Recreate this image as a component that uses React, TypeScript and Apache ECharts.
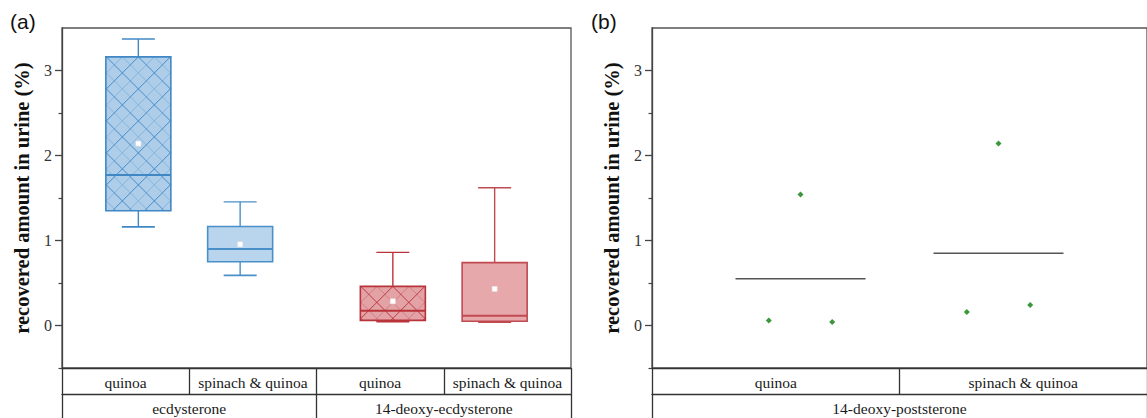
import React, { useEffect, useRef } from "react";
import * as echarts from "echarts";

// ---- Data (panel a) ----
const catsA = ["quinoa", "spinach & quinoa", "quinoa", "spinach & quinoa"];
const groupsA = ["ecdysterone", "14-deoxy-ecdysterone"];
const posA = [0.6, 1.4, 2.6, 3.4];
const whiskerLowA = [1.16, 0.59, 0.045, 0.04];
const q1A = [1.35, 0.75, 0.06, 0.05];
const medianA = [1.77, 0.9, 0.175, 0.115];
const q3A = [3.16, 1.165, 0.46, 0.74];
const whiskerHighA = [3.37, 1.455, 0.86, 1.62];
const meanA = [2.14, 0.955, 0.285, 0.43];
const hatchedA = [1, 0, 1, 0];

// ---- Data (panel b) ----
const catsB = ["quinoa", "spinach & quinoa"];
const groupsB = ["14-deoxy-poststerone"];
const posB = [0.6, 1.4];
const quinoaPts = [0.06, 1.54, 0.04];
const spinachPts = [0.16, 2.14, 0.24];
const meanB = [0.55, 0.85];

const yMajor = [0, 1, 2, 3];
const yMinor = [-0.5, 0.5, 1.5, 2.5];

// styles (not data)
const boxStyles = [
  { fill: "#aecde9", stroke: "#3f88c5", hatch: "#3f88c5" },
  { fill: "#b9d5ed", stroke: "#4a90c8", hatch: "#4a90c8" },
  { fill: "#e3a3a6", stroke: "#b8343a", hatch: "#b8343a" },
  { fill: "#e6a8ab", stroke: "#c04a50", hatch: "#c04a50" },
];
const jitter = [-0.128, 0, 0.128];

const SERIF = "Liberation Serif";
const SANS = "Liberation Sans";

function hatchLines(x0: number, y0: number, x1: number, y1: number, cx: number, cy: number, color: string) {
  const out: any[] = [];
  const step = 32;
  const fams = [
    { off: 0, op: 0.95 },
    { off: step / 2, op: 0.35 },
  ];
  for (const f of fams) {
    for (let n = -20; n <= 20; n++) {
      const kA = cx - cy + f.off + n * step;
      const xa0 = Math.max(x0, y0 + kA), xa1 = Math.min(x1, y1 + kA);
      if (xa1 > xa0) {
        out.push({ type: "line", shape: { x1: xa0, y1: xa0 - kA, x2: xa1, y2: xa1 - kA }, style: { stroke: color, lineWidth: 1, opacity: f.op } });
      }
      const kB = cx + cy + f.off + n * step;
      const xb0 = Math.max(x0, kB - y1), xb1 = Math.min(x1, kB - y0);
      if (xb1 > xb0) {
        out.push({ type: "line", shape: { x1: xb0, y1: kB - xb0, x2: xb1, y2: kB - xb1 }, style: { stroke: color, lineWidth: 1, opacity: f.op } });
      }
    }
  }
  return out;
}

export default function App() {
  const ref = useRef<HTMLDivElement>(null);
  useEffect(() => {
    document.body.style.margin = "0";
    const chart = echarts.init(ref.current!, null, { renderer: "svg" });

    const boxData = posA.map((p, i) => [p, whiskerLowA[i], q1A[i], medianA[i], q3A[i], whiskerHighA[i], meanA[i], hatchedA[i], i]);

    const renderBox = (params: any, api: any) => {
      const x = api.value(0);
      const idx = api.value(8);
      const st = boxStyles[idx];
      const cx = api.coord([x, 0])[0];
      const yLo = api.coord([x, api.value(1)])[1];
      const yQ1 = api.coord([x, api.value(2)])[1];
      const yMed = api.coord([x, api.value(3)])[1];
      const yQ3 = api.coord([x, api.value(4)])[1];
      const yHi = api.coord([x, api.value(5)])[1];
      const yMean = api.coord([x, api.value(6)])[1];
      const hw = 32.5, cw = 16.5;
      const children: any[] = [];
      children.push({ type: "rect", shape: { x: cx - hw, y: yQ3, width: hw * 2, height: yQ1 - yQ3 }, style: { fill: st.fill } });
      if (api.value(7) === 1) {
        children.push(...hatchLines(cx - hw, yQ3, cx + hw, yQ1, cx, yQ3, st.hatch));
      }
      children.push({ type: "rect", shape: { x: cx - hw, y: yQ3, width: hw * 2, height: yQ1 - yQ3 }, style: { fill: "none", stroke: st.stroke, lineWidth: 1.6 } });
      children.push({ type: "line", shape: { x1: cx, y1: yQ3, x2: cx, y2: yHi }, style: { stroke: st.stroke, lineWidth: 1.4 } });
      children.push({ type: "line", shape: { x1: cx - cw, y1: yHi, x2: cx + cw, y2: yHi }, style: { stroke: st.stroke, lineWidth: 1.4 } });
      children.push({ type: "line", shape: { x1: cx, y1: yQ1, x2: cx, y2: yLo }, style: { stroke: st.stroke, lineWidth: 1.4 } });
      children.push({ type: "line", shape: { x1: cx - cw, y1: yLo, x2: cx + cw, y2: yLo }, style: { stroke: st.stroke, lineWidth: 1.8 } });
      children.push({ type: "line", shape: { x1: cx - hw, y1: yMed, x2: cx + hw, y2: yMed }, style: { stroke: st.stroke, lineWidth: 2 } });
      children.push({ type: "rect", shape: { x: cx - 2.5, y: yMean - 2.5, width: 5, height: 5 }, style: { fill: "#ffffff", stroke: "#e8e8e8", lineWidth: 0.5 } });
      return { type: "group", children };
    };

    const renderMean = (params: any, api: any) => {
      const p = api.coord([api.value(0), api.value(1)]);
      return { type: "line", shape: { x1: p[0] - 65, y1: p[1], x2: p[0] + 65, y2: p[1] }, style: { stroke: "#555", lineWidth: 1.5 } };
    };

    const scatterB: number[][] = [];
    quinoaPts.forEach((v, i) => scatterB.push([posB[0] + jitter[i], v]));
    spinachPts.forEach((v, i) => scatterB.push([posB[1] + jitter[i], v]));

    const catAxis = (gridIndex: number, data: string[], offset: number) => ({
      type: "category",
      gridIndex,
      data,
      position: "bottom",
      offset,
      boundaryGap: true,
      axisLine: { show: true, onZero: false, lineStyle: { color: "#333", width: 1.3 } },
      axisTick: { show: true, length: 26, interval: 0, alignWithLabel: false, lineStyle: { color: "#333", width: 1.3 } },
      axisLabel: { interval: 0, margin: 6, fontFamily: SERIF, fontSize: 15.5, color: "#1a1a1a" },
      splitLine: { show: false },
    });

    const mainY = (gridIndex: number) => ({
      type: "value",
      gridIndex,
      position: "left",
      min: -0.5,
      max: 3.5,
      name: "recovered amount in urine (%)",
      nameLocation: "middle",
      nameGap: 30,
      nameTextStyle: { fontFamily: SERIF, fontWeight: "bold", fontSize: 20.5, color: "#111" },
      axisLine: { show: true, onZero: false, lineStyle: { color: "#444", width: 1.3 } },
      axisTick: { show: true, length: 7, customValues: yMajor, lineStyle: { color: "#444", width: 1.3 } },
      axisLabel: { customValues: yMajor, margin: 10, fontFamily: SERIF, fontSize: 16, color: "#333" },
      splitLine: { show: false },
    });
    const minorY = (gridIndex: number) => ({
      type: "value",
      gridIndex,
      position: "left",
      offset: 0,
      min: -0.5,
      max: 3.5,
      axisLine: { show: false, onZero: false },
      axisTick: { show: true, length: 3.5, customValues: yMinor, lineStyle: { color: "#444", width: 1.2 } },
      axisLabel: { show: false },
      splitLine: { show: false },
    });

    chart.setOption({
      animation: false,
      grid: [
        { left: 62, top: 28, width: 509, height: 340, show: true, borderColor: "#555", borderWidth: 1.3, backgroundColor: "transparent" },
        { left: 652, top: 28, width: 508, height: 340, show: true, borderColor: "#555", borderWidth: 1.3, backgroundColor: "transparent" },
      ],
      xAxis: [
        { type: "value", gridIndex: 0, min: 0, max: 4, show: false },
        catAxis(0, catsA, 0),
        catAxis(0, groupsA, 26),
        { type: "value", gridIndex: 1, min: 0, max: 2, show: false },
        catAxis(1, catsB, 0),
        catAxis(1, groupsB, 26),
      ],
      yAxis: [mainY(0), minorY(0), mainY(1), minorY(1)],
      series: [
        {
          type: "custom",
          xAxisIndex: 0,
          yAxisIndex: 0,
          renderItem: renderBox,
          encode: { x: 0, y: [1, 2, 3, 4, 5] },
          data: boxData,
          clip: false,
        },
        {
          type: "custom",
          xAxisIndex: 3,
          yAxisIndex: 2,
          renderItem: renderMean,
          encode: { x: 0, y: 1 },
          data: posB.map((p, i) => [p, meanB[i]]),
        },
        {
          type: "scatter",
          xAxisIndex: 3,
          yAxisIndex: 2,
          symbol: "diamond",
          symbolSize: 6,
          itemStyle: { color: "#0b7d0b" },
          data: scatterB,
        },
      ],
      graphic: [
        { type: "text", left: 10, top: 11, style: { text: "(a)", fontFamily: SANS, fontSize: 21, fill: "#111" } },
        { type: "text", left: 591, top: 11, style: { text: "(b)", fontFamily: SANS, fontSize: 21, fill: "#111" } },
      ],
    });
    return () => chart.dispose();
  }, []);
  return <div ref={ref} style={{ width: 1147, height: 418 }} />;
}
